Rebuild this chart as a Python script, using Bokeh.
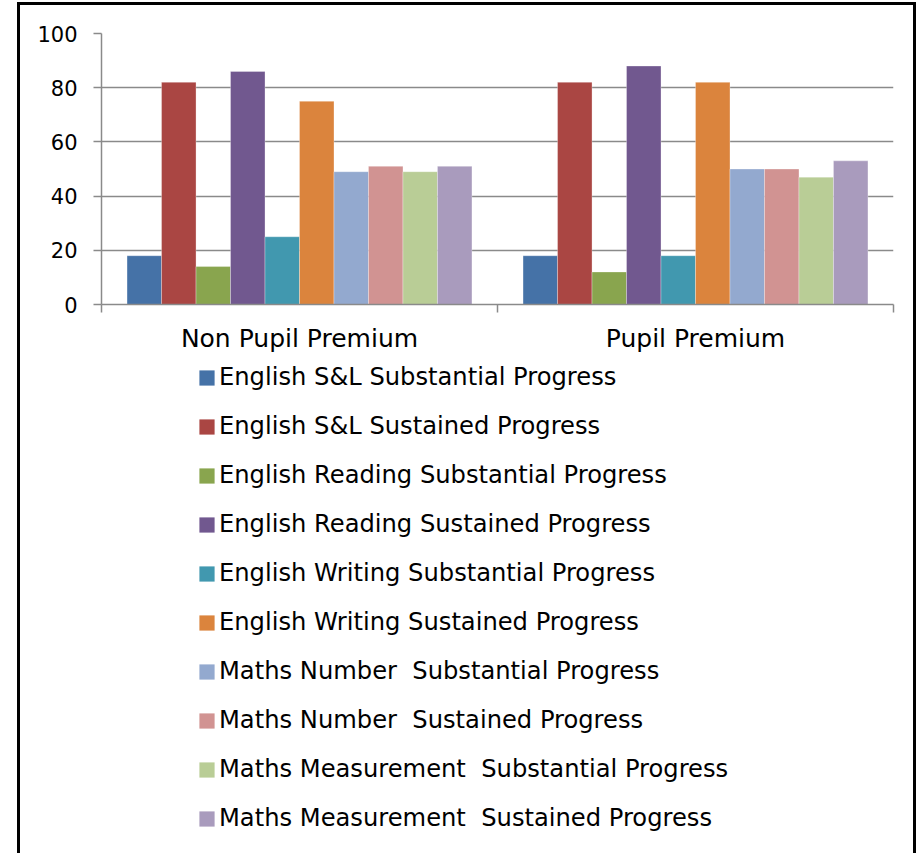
from bokeh.plotting import figure
from bokeh.layouts import column
from bokeh.models import FixedTicker, Legend, LegendItem, Range1d
from bokeh.embed import file_html
from bokeh.resources import INLINE

categories = ["Non Pupil Premium", "Pupil Premium"]
series_names = [
    "English S&L Substantial Progress",
    "English S&L Sustained Progress",
    "English Reading Substantial Progress",
    "English Reading Sustained Progress",
    "English Writing Substantial Progress",
    "English Writing Sustained Progress",
    "Maths Number  Substantial Progress",
    "Maths Number  Sustained Progress",
    "Maths Measurement  Substantial Progress",
    "Maths Measurement  Sustained Progress",
]
colors = ["#4572A7", "#AA4643", "#89A54E", "#71588F", "#4198AF",
          "#DB843D", "#93A9CF", "#D19392", "#B9CD96", "#A99BBD"]
values_non_pp = [18, 82, 14, 86, 25, 75, 49, 51, 49, 51]
values_pp = [18, 82, 12, 88, 18, 82, 50, 50, 47, 53]
y_ticks = [0, 20, 40, 60, 80, 100]

FONT = "DejaVu Sans"
GRID = "#8a8a8a"
W = 899

p = figure(width=W, height=358, x_range=Range1d(0, len(categories)), y_range=Range1d(0, 100),
           output_backend="svg", toolbar_location=None,
           min_border_left=84, min_border_right=23, min_border_top=31, min_border_bottom=56)
p.outline_line_color = None
p.background_fill_color = "white"
p.border_fill_color = None

n = len(series_names)
bw = 0.871 / n
for i, name in enumerate(series_names):
    xs = [k + 0.5 + (i - (n - 1) / 2) * bw for k in range(len(categories))]
    tops = [values_non_pp[i], values_pp[i]]
    p.vbar(x=xs, top=tops, bottom=0, width=bw, fill_color=colors[i],
           line_color="white", line_width=0.6, line_alpha=0.5)

p.xaxis.ticker = FixedTicker(ticks=[k + 0.5 for k in range(len(categories))],
                             minor_ticks=list(range(len(categories) + 1)))
p.xaxis.major_label_overrides = {k + 0.5: c for k, c in enumerate(categories)}
p.xaxis.major_tick_out = 0
p.xaxis.major_tick_in = 0
p.xaxis.minor_tick_out = 8
p.xaxis.minor_tick_in = 0
p.xaxis.minor_tick_line_color = GRID
p.xaxis.minor_tick_line_width = 1.5
p.xaxis.axis_line_color = GRID
p.xaxis.axis_line_width = 1.5
p.xaxis.major_label_text_font = FONT
p.xaxis.major_label_text_font_size = "25px"
p.xaxis.major_label_text_color = "black"
p.xaxis.major_label_standoff = 11

p.yaxis.ticker = FixedTicker(ticks=y_ticks, minor_ticks=[])
p.yaxis.major_tick_out = 8
p.yaxis.major_tick_in = 0
p.yaxis.major_tick_line_color = GRID
p.yaxis.major_tick_line_width = 1.5
p.yaxis.axis_line_color = GRID
p.yaxis.axis_line_width = 1.5
p.yaxis.major_label_text_font = FONT
p.yaxis.major_label_text_font_size = "21px"
p.yaxis.major_label_text_color = "black"
p.yaxis.major_label_standoff = 16

p.xgrid.grid_line_color = None
p.ygrid.grid_line_color = GRID
p.ygrid.grid_line_width = 1.5

# legend figure (aligned with the chart above)
p2 = figure(width=W, height=493, x_range=Range1d(0, 1), y_range=Range1d(0, 1),
            x_axis_type=None, y_axis_type=None, output_backend="svg", toolbar_location=None,
            min_border_left=84, min_border_right=23, min_border_top=0, min_border_bottom=0)
p2.outline_line_color = None
p2.background_fill_color = None
p2.border_fill_color = None
p2.grid.grid_line_color = None
items = []
for i, name in enumerate(series_names):
    # legend-only renderer with zero height (nothing visible in the frame)
    r = p2.vbar(x=[0.5], top=[0], bottom=[0], width=0.1, fill_color=colors[i], line_color=None)
    items.append(LegendItem(label=name, renderers=[r]))
legend = Legend(items=items, location=(96, 21), orientation="vertical",
                glyph_width=19, glyph_height=19, label_standoff=3,
                label_text_font=FONT, label_text_font_size="24.2px", label_text_color="black",
                spacing=21, padding=0, margin=0,
                border_line_color=None, background_fill_alpha=0)
p2.add_layout(legend, "center")

layout = column(p, p2, spacing=0, margin=(2, 0, 0, 17),
                styles={"box-shadow": "inset 3px 3px 0 0 #000000, inset -3px 0 0 0 #000000"})

open("out.html", "w").write(file_html(layout, INLINE))
